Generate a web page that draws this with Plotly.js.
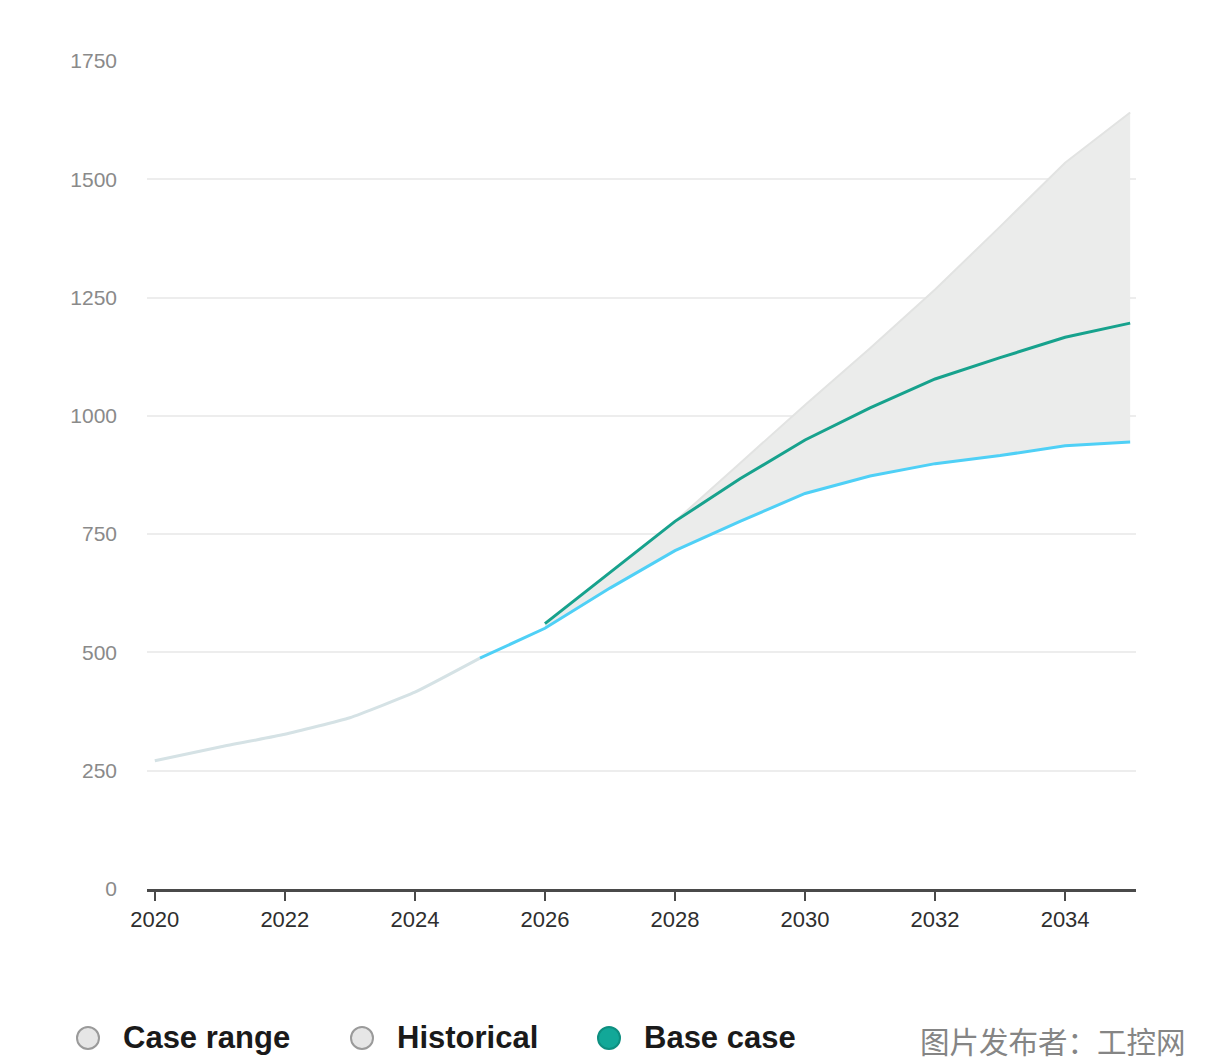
<!DOCTYPE html>
<html>
<head>
<meta charset="utf-8">
<script src="https://cdn.plot.ly/plotly-3.0.1.min.js"></script>
<style>
  html, body { margin: 0; padding: 0; background: #ffffff; }
  #chart { width: 1208px; height: 1060px; }
</style>
</head>
<body>
<div id="chart"></div>
<script>
// ---- Data ----
var histYears = [2020, 2021, 2022, 2023, 2024, 2025];
var histValues = [271, 300, 327, 362, 416, 488];

var lowYears = [2025, 2026, 2027, 2028, 2029, 2030, 2031, 2032, 2033, 2034, 2035];
var lowValues = [488, 551, 636, 715, 777, 836, 873, 899, 916, 937, 945];

var baseYears = [2026, 2027, 2028, 2029, 2030, 2031, 2032, 2033, 2034, 2035];
var baseValues = [561, 668, 777, 867, 949, 1017, 1078, 1123, 1166, 1196];

var rangeYears = [2026, 2027, 2028, 2029, 2030, 2031, 2032, 2033, 2034, 2035];
var rangeLow = [551, 636, 715, 777, 836, 873, 899, 916, 937, 945];
var rangeHigh = [561, 668, 777, 900, 1023, 1143, 1267, 1400, 1535, 1641];

var xTicks = [2020, 2022, 2024, 2026, 2028, 2030, 2032, 2034];
var yTicks = [0, 250, 500, 750, 1000, 1250, 1500, 1750];

var legendLabels = ['Case range', 'Historical', 'Base case'];
var watermark = '图片发布者：工控网';

// ---- Traces ----
var traces = [
  { x: rangeYears, y: rangeLow, mode: 'lines', line: { width: 0, color: 'rgba(0,0,0,0)' },
    showlegend: false, hoverinfo: 'skip' },
  { x: rangeYears, y: rangeHigh, mode: 'lines', fill: 'tonexty', fillcolor: '#ebeceb',
    line: { width: 2, color: '#e2e3e2' }, showlegend: false, name: legendLabels[0] },
  { x: histYears, y: histValues, mode: 'lines', line: { width: 3, color: '#d5e2e5', shape: 'spline', smoothing: 0.4 },
    showlegend: false, name: legendLabels[1] },
  { x: lowYears, y: lowValues, mode: 'lines', line: { width: 3, color: '#4fd0f6' },
    showlegend: false, name: 'Low case' },
  { x: baseYears, y: baseValues, mode: 'lines', line: { width: 3, color: '#17a28d' },
    showlegend: false, name: legendLabels[2] }
];

// ---- Legend drawn below the chart ----
var legendCircleX = [88, 362, 609];
var legendTextX = [121, 395, 642];
var legendFill = ['#e6e6e6', '#e6e6e6', '#12a898'];
var legendLine = ['#9a9a9a', '#9a9a9a', '#0e8f80'];
var W = 1208, H = 1060, ml = 147, mr = 72, mt = 61, mb = 171;
var pw = W - ml - mr, ph = H - mt - mb;
function px2x(p) { return (p - ml) / pw; }
function py2y(p) { return (H - mb - p) / ph; }

var shapes = [];
var annotations = [];
for (var i = 0; i < legendLabels.length; i++) {
  shapes.push({
    type: 'circle', xref: 'paper', yref: 'paper',
    xsizemode: 'pixel', ysizemode: 'pixel',
    xanchor: px2x(legendCircleX[i]), yanchor: py2y(1038),
    x0: -11, x1: 11, y0: -11, y1: 11,
    fillcolor: legendFill[i], line: { color: legendLine[i], width: 2 }
  });
  annotations.push({
    xref: 'paper', yref: 'paper', x: px2x(legendTextX[i]), y: py2y(1037),
    xanchor: 'left', yanchor: 'middle', showarrow: false,
    text: '<b>' + legendLabels[i] + '</b>',
    font: { family: 'Liberation Sans, Arial, sans-serif', size: 31, color: '#1a1a1a' }
  });
}
annotations.push({
  xref: 'paper', yref: 'paper', x: px2x(1188), y: py2y(1040),
  xanchor: 'right', yanchor: 'middle', showarrow: false,
  text: watermark,
  font: { family: 'Noto Sans CJK SC, sans-serif', size: 29.5, color: '#858585' }
});

var layout = {
  width: W, height: H,
  margin: { l: ml, r: mr, t: mt, b: mb, pad: 0 },
  paper_bgcolor: '#ffffff', plot_bgcolor: '#ffffff',
  showlegend: false,
  xaxis: {
    range: [2019.88, 2035.09],
    tickvals: xTicks, ticktext: xTicks.map(String),
    showgrid: false, zeroline: false,
    showline: true, linecolor: '#4a4a4a', linewidth: 3,
    ticks: 'outside', ticklen: 9, tickwidth: 2, tickcolor: '#4a4a4a',
    tickfont: { family: 'Liberation Sans, Arial, sans-serif', size: 22, color: '#2e2e2e' },
    fixedrange: true
  },
  yaxis: {
    range: [0, 1750],
    tickvals: yTicks, ticktext: yTicks.map(String),
    showgrid: true, gridcolor: '#ededed', gridwidth: 2,
    zeroline: false, showline: false,
    ticks: '', ticklabelstandoff: 29,
    tickfont: { family: 'Liberation Sans, Arial, sans-serif', size: 21, color: '#8a8a8a' },
    fixedrange: true
  },
  shapes: shapes,
  annotations: annotations
};

Plotly.newPlot('chart', traces, layout, { displayModeBar: false, staticPlot: true });
</script>
</body>
</html>
